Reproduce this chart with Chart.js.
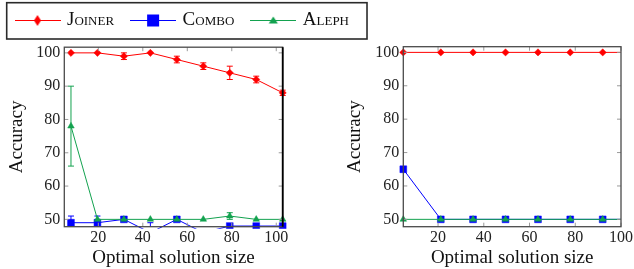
<!DOCTYPE html>
<html>
<head>
<meta charset="utf-8">
<script src="https://cdn.jsdelivr.net/npm/chart.js@4.4.0/dist/chart.umd.min.js"></script>
<style>
  html, body { margin: 0; padding: 0; background: #fff; }
  #wrap { position: relative; width: 634px; height: 269px; }
  #wrap canvas { position: absolute; left: 0; top: 0; }
</style>
</head>
<body>
<div id="wrap">
  <canvas id="left" width="634" height="269"></canvas>
  <canvas id="right" width="634" height="269"></canvas>
</div>
<script>
// --- data ---
const seriesNames = ['Joiner', 'Combo', 'Aleph'];

// left panel
const leftSizes = [7.7, 19.6, 31.5, 43.4, 55.3, 67.2, 79.1, 91.0, 102.9];
const leftJoiner = [100, 100, 99, 100, 98, 96, 94, 92, 88];
const leftJoinerErr = [0, 0, 1, 0, 1, 1, 2, 1, 0.8];
const leftCombo = [49, 49, 50, 46, 50, 46, 48, 48, 48];
const leftComboErr = [2, 2, 0, 3, 0, 0, 0, 0, 0];
const leftAleph = [78, 50, 50, 50, 50, 50, 51, 50, 50];
const leftAlephErr = [12, 0, 0, 0, 0, 0, 1, 0, 0];

// right panel
const rightSizes = [4.8, 21.2, 35.3, 49.5, 63.7, 77.8, 92.0, 106.1];
const rightJoiner = [100, 100, 100, 100, 100, 100, 100, 100];
const rightCombo = [65, 50, 50, 50, 50, 50, 50, 50];
const rightAleph = [50, 50, 50, 50, 50, 50, 50, 50];

const xTicks = [20, 40, 60, 80, 100];
const yTicks = [50, 60, 70, 80, 90, 100];

const colors = ['#ff0000', '#0000ff', '#13a24f'];
const markers = ['rectRot', 'rect', 'triangle'];
const markerSizes = [3.6, 4.8, 3.8];

const FONT = "'Liberation Serif', 'Times New Roman', serif";

function pts(xs, ys) {
  return xs.map((x, i) => ({ x: x, y: ys[i] }));
}

function makeSet(i, xs, ys, errs, clip) {
  return {
    label: seriesNames[i],
    data: pts(xs, ys),
    errors: errs,
    borderColor: colors[i],
    backgroundColor: colors[i],
    borderWidth: 1,
    tension: 0,
    pointStyle: markers[i],
    pointRadius: markerSizes[i],
    pointBorderWidth: 0.5,
    pointBorderColor: colors[i],
    pointBackgroundColor: colors[i],
    order: 3 - i,
    clip: clip
  };
}

// line + marker icon for the legend
function legendIcon(i) {
  const c = document.createElement('canvas');
  c.width = 46; c.height = 14;
  const g = c.getContext('2d');
  g.strokeStyle = colors[i];
  g.fillStyle = colors[i];
  g.lineWidth = 1;
  g.beginPath(); g.moveTo(0, 7.5); g.lineTo(46, 7.5); g.stroke();
  g.beginPath();
  if (i === 0) {
    g.moveTo(23, 2); g.lineTo(26.5, 7.5); g.lineTo(23, 13); g.lineTo(19.5, 7.5);
  } else if (i === 1) {
    g.rect(17, 1.5, 12, 12);
  } else {
    g.moveTo(23, 3.5); g.lineTo(27.5, 10.5); g.lineTo(18.5, 10.5);
  }
  g.closePath(); g.fill();
  return c;
}

// error bars drawn through the scales
const errorBars = {
  id: 'errorBars',
  beforeDatasetsDraw(chart) {
    const { ctx, chartArea: a, scales: { x, y } } = chart;
    ctx.save();
    ctx.beginPath();
    ctx.rect(a.left - 6, a.top, a.right - a.left + 12, a.bottom - a.top);
    ctx.clip();
    chart.data.datasets.forEach(ds => {
      if (!ds.errors) return;
      ctx.strokeStyle = ds.borderColor;
      ctx.lineWidth = 1;
      ds.data.forEach((p, i) => {
        const e = ds.errors[i];
        if (!e) return;
        const px = x.getPixelForValue(p.x);
        const y1 = y.getPixelForValue(p.y + e);
        const y2 = y.getPixelForValue(p.y - e);
        ctx.beginPath();
        ctx.moveTo(px, y1); ctx.lineTo(px, y2);
        ctx.moveTo(px - 3, y1); ctx.lineTo(px + 3, y1);
        ctx.moveTo(px - 3, y2); ctx.lineTo(px + 3, y2);
        ctx.stroke();
      });
    });
    ctx.restore();
  }
};

// pgfplots style box with inner ticks on all four sides
const frame = {
  id: 'frame',
  afterDatasetsDraw(chart, args, opts) {
    const { ctx, chartArea: a, scales: { x, y } } = chart;
    ctx.save();
    ctx.strokeStyle = '#9a9a9a';
    ctx.lineWidth = 1;
    ctx.beginPath();
    x.ticks.forEach(t => {
      const px = x.getPixelForValue(t.value);
      ctx.moveTo(px, a.bottom); ctx.lineTo(px, a.bottom - 4);
      ctx.moveTo(px, a.top); ctx.lineTo(px, a.top + 4);
    });
    y.ticks.forEach(t => {
      const py = y.getPixelForValue(t.value);
      ctx.moveTo(a.left, py); ctx.lineTo(a.left + 4, py);
      ctx.moveTo(a.right, py); ctx.lineTo(a.right - 4, py);
    });
    ctx.stroke();
    ctx.strokeStyle = '#4a4a4a';
    ctx.lineWidth = 1.3;
    ctx.strokeRect(a.left, a.top, a.right - a.left, a.bottom - a.top);
    if (opts.darkRight) {
      ctx.strokeStyle = '#000';
      ctx.lineWidth = 1.8;
      ctx.beginPath(); ctx.moveTo(a.right, a.top); ctx.lineTo(a.right, a.bottom); ctx.stroke();
    }
    ctx.restore();
  }
};

// border around the legend
const legendBox = {
  id: 'legendBox',
  afterDraw(chart) {
    const lg = chart.legend;
    if (!lg || !lg.options.display || !lg.legendHitBoxes.length) return;
    const hb = lg.legendHitBoxes;
    const last = hb[hb.length - 1];
    const { ctx } = chart;
    ctx.save();
    ctx.strokeStyle = '#2a2a2a';
    ctx.lineWidth = 1.6;
    ctx.strokeRect(6.7, 2.7, last.left + last.width + 8.5 - 6.7, 36.3);
    ctx.restore();
  }
};

function spacer(axis, position, size) {
  return {
    type: 'linear', axis: axis, position: position, display: true,
    ticks: { display: false }, grid: { display: false }, border: { display: false },
    afterFit: s => { if (axis === 'x') s.height = size; else s.width = size; }
  };
}

function scalesFor(xMin, xMax, yAxisWidth, yTitlePad) {
  return {
    x: {
      type: 'linear', position: 'bottom', min: xMin, max: xMax,
      afterBuildTicks: s => { s.ticks = xTicks.map(v => ({ value: v })); },
      ticks: { font: { family: FONT, size: 16 }, color: '#222', padding: 1, maxRotation: 0, autoSkip: false },
      grid: { display: false, drawTicks: false },
      border: { display: false },
      title: { display: true, text: 'Optimal solution size', color: '#111',
               font: { family: FONT, size: 19 }, padding: { top: 0, bottom: 0 } },
      afterFit: s => { s.height = 42.3; }
    },
    y: {
      type: 'linear', position: 'left', min: 47.8, max: 101.7,
      afterBuildTicks: s => { s.ticks = yTicks.map(v => ({ value: v })); },
      ticks: { font: { family: FONT, size: 16 }, color: '#222', padding: 4, autoSkip: false },
      grid: { display: false, drawTicks: false },
      border: { display: false },
      title: { display: true, text: 'Accuracy', color: '#111',
               font: { family: FONT, size: 19 }, padding: { top: yTitlePad, bottom: 0 } },
      afterFit: s => { s.width = yAxisWidth; }
    }
  };
}

Chart.register(errorBars, frame, legendBox);

// left panel
const leftScales = scalesFor(4.7, 102.9, 56.3, -2.7);
leftScales.top = spacer('x', 'top', 7.7);
leftScales.side = spacer('y', 'right', 351.3);
const leftClip = { left: 6, right: 6, top: 6, bottom: 2 };
new Chart(document.getElementById('left'), {
  type: 'line',
  data: {
    datasets: [
      makeSet(0, leftSizes, leftJoiner, leftJoinerErr, leftClip),
      makeSet(1, leftSizes, leftCombo, leftComboErr, leftClip),
      makeSet(2, leftSizes, leftAleph, leftAlephErr, leftClip)
    ]
  },
  options: {
    responsive: false,
    animation: false,
    layout: { padding: { left: 8, right: 0, top: 1, bottom: 0 } },
    scales: leftScales,
    plugins: {
      tooltip: { enabled: false },
      frame: { darkRight: true },
      legend: {
        display: true, position: 'top', align: 'start',
        labels: {
          usePointStyle: true, pointStyleWidth: 40, padding: 9.5,
          color: '#111',
          font: { family: FONT, size: 19, weight: 'small-caps' },
          // small caps here run narrower than the LaTeX ones, two no-break spaces keep the spacing
          generateLabels: chart => chart.data.datasets.map((ds, i) => ({
            text: ds.label + '\u00a0\u00a0', pointStyle: legendIcon(i), datasetIndex: i,
            fontColor: '#111', lineWidth: 0, hidden: false,
            fillStyle: colors[i], strokeStyle: colors[i]
          }))
        }
      }
    }
  }
});

// right panel
const rightScales = scalesFor(4.8, 100, 68.3, 9.1);
rightScales.top = spacer('x', 'top', 46.7);
const rightClip = { left: 6, right: 0, top: 6, bottom: 2 };
new Chart(document.getElementById('right'), {
  type: 'line',
  data: {
    datasets: [
      makeSet(0, rightSizes, rightJoiner, null, rightClip),
      makeSet(1, rightSizes, rightCombo, null, rightClip),
      makeSet(2, rightSizes, rightAleph, null, rightClip)
    ]
  },
  options: {
    responsive: false,
    animation: false,
    layout: { padding: { left: 335, right: 12.3, top: 0, bottom: 0 } },
    scales: rightScales,
    plugins: {
      tooltip: { enabled: false },
      legend: { display: false },
      frame: { darkRight: false }
    }
  }
});
</script>
</body>
</html>
